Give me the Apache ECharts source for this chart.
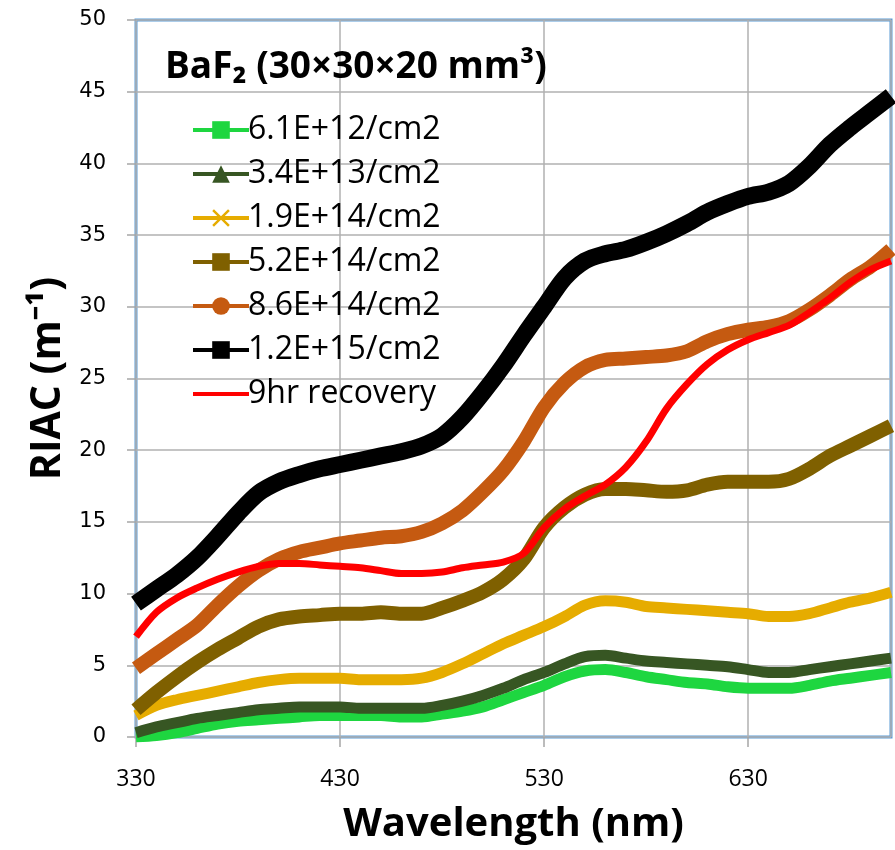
<!DOCTYPE html>
<html>
<head>
<meta charset="utf-8">
<script src="https://cdn.jsdelivr.net/npm/echarts@6/dist/echarts.min.js"></script>
<style>
  html, body { margin: 0; padding: 0; background: #fff; }
  #riac { width: 895px; height: 850px; }
</style>
</head>
<body>
<div id="riac"></div>
<script>
var wavelength = [330, 340, 350, 360, 370, 380, 390, 400, 410, 420, 430, 440, 450, 460, 470, 480, 490, 500, 510,
	520, 530, 540, 550, 560, 570, 580, 590, 600, 610, 620, 630, 640, 650, 660, 670, 680, 690, 700];

var dose61e12 = [0.0, 0.1, 0.3, 0.6, 0.9, 1.1, 1.2, 1.3, 1.4, 1.5, 1.5, 1.5, 1.5, 1.4, 1.4, 1.6, 1.8, 2.1, 2.6,
	3.1, 3.6, 4.2, 4.6, 4.7, 4.5, 4.2, 4.0, 3.8, 3.7, 3.5, 3.4, 3.4, 3.4, 3.6, 3.9, 4.1, 4.3, 4.5];
var dose34e13 = [0.3, 0.7, 1.0, 1.3, 1.5, 1.7, 1.9, 2.0, 2.1, 2.1, 2.1, 2.0, 2.0, 2.0, 2.0, 2.2, 2.5, 2.9, 3.4,
	4.0, 4.5, 5.1, 5.6, 5.7, 5.5, 5.3, 5.2, 5.1, 5.0, 4.9, 4.7, 4.5, 4.5, 4.7, 4.9, 5.1, 5.3, 5.5];
var dose19e14 = [1.5, 2.2, 2.6, 2.9, 3.2, 3.5, 3.8, 4.0, 4.1, 4.1, 4.1, 4.0, 4.0, 4.0, 4.1, 4.5, 5.1, 5.8, 6.5,
	7.1, 7.7, 8.4, 9.2, 9.5, 9.4, 9.1, 9.0, 8.9, 8.8, 8.7, 8.6, 8.4, 8.4, 8.6, 9.0, 9.4, 9.7, 10.1];
var dose52e14 = [1.9, 3.1, 4.2, 5.2, 6.1, 6.9, 7.7, 8.2, 8.4, 8.5, 8.6, 8.6, 8.7, 8.6, 8.6, 9.0, 9.5, 10.1, 11.0,
	12.4, 14.6, 16.0, 16.9, 17.3, 17.3, 17.2, 17.1, 17.2, 17.6, 17.8, 17.8, 17.8, 18.0, 18.7, 19.6, 20.3, 21.0, 21.7];
var dose86e14 = [4.8, 5.8, 6.8, 7.8, 9.2, 10.5, 11.6, 12.4, 12.9, 13.2, 13.5, 13.7, 13.9, 14.0, 14.3, 14.9, 15.8, 17.1, 18.6,
	20.6, 23.0, 24.7, 25.8, 26.3, 26.4, 26.5, 26.6, 26.9, 27.6, 28.1, 28.4, 28.6, 29.0, 29.8, 30.8, 31.9, 32.8, 34.0];
var dose12e15 = [9.3, 10.3, 11.3, 12.5, 14.0, 15.6, 17.0, 17.8, 18.3, 18.7, 19.0, 19.3, 19.6, 19.9, 20.3, 21.0, 22.3, 24.0, 25.9,
	28.0, 30.0, 32.0, 33.2, 33.7, 34.0, 34.5, 35.1, 35.8, 36.6, 37.2, 37.7, 38.0, 38.6, 39.8, 41.3, 42.5, 43.6, 44.7];
var recovery9hr = [7.0, 8.7, 9.7, 10.4, 11.0, 11.5, 11.9, 12.1, 12.1, 12.0, 11.9, 11.8, 11.6, 11.4, 11.4, 11.5, 11.8, 12.0, 12.2,
	12.8, 14.6, 15.9, 16.8, 17.6, 18.8, 20.6, 22.9, 24.6, 26.0, 27.0, 27.7, 28.2, 28.7, 29.6, 30.6, 31.7, 32.6, 33.2];

var seriesNames = ['6.1E+12/cm2', '3.4E+13/cm2', '1.9E+14/cm2', '5.2E+14/cm2', '8.6E+14/cm2', '1.2E+15/cm2', '9hr recovery'];

var crossSymbol = 'path://M0,1L1,0L5,4L9,0L10,1L6,5L10,9L9,10L5,6L1,10L0,9L4,5Z';
var plainLine = 'path://M0,0H27V2H0Z';

function pairs(values) {
	return wavelength.map(function (w, i) { return [w, values[i]]; });
}

function band(name, values, color, width, symbol) {
	return {
		name: name,
		type: 'line',
		data: pairs(values),
		smooth: 0.3,
		symbol: symbol,
		symbolSize: 14,
		showSymbol: false,
		itemStyle: { color: color },
		lineStyle: { color: color, width: width },
		emphasis: { disabled: true }
	};
}

var dom = document.getElementById('riac');
var myChart = echarts.init(dom);

var option = {
	animation: false,
	title: {
		text: 'BaF\u2082 (30\u00d730\u00d720 mm\u00b3)',
		left: 160,
		top: 44,
		textStyle: {
			fontFamily: 'Open Sans',
			fontWeight: 'bold',
			fontSize: 37,
			color: '#000'
		}
	},
	legend: {
		orient: 'vertical',
		left: 186,
		top: 108,
		itemWidth: 56,
		itemHeight: 22,
		itemGap: 10,
		lineStyle: { width: 4 },
		textStyle: {
			fontFamily: 'Open Sans',
			fontSize: 32,
			color: '#000',
			lineHeight: 34,
			padding: [0, 0, 0, -6]
		},
		data: seriesNames.slice(0, 6).concat([{ name: seriesNames[6], icon: plainLine }])
	},
	grid: {
		left: 136,
		right: 4,
		top: 20,
		bottom: 113,
		show: true,
		borderColor: '#5b9bd5',
		borderWidth: 3
	},
	xAxis: {
		type: 'value',
		min: 330,
		max: 700,
		interval: 100,
		name: 'Wavelength (nm)',
		nameLocation: 'middle',
		nameGap: 68,
		nameTextStyle: {
			fontFamily: 'Open Sans',
			fontWeight: 'bold',
			fontSize: 40,
			color: '#000'
		},
		axisLine: { show: false },
		axisTick: { show: true, length: 10, lineStyle: { color: '#a6a6a6', width: 1.5 } },
		axisLabel: {
			showMaxLabel: false,
			margin: 31,
			fontFamily: 'Open Sans',
			fontSize: 23,
			color: '#000'
		},
		splitLine: { show: true, lineStyle: { color: '#b0b0b0', width: 1.5 } }
	},
	yAxis: {
		type: 'value',
		min: 0,
		max: 50,
		interval: 5,
		name: 'RIAC (m\u207b\u00b9)',
		nameLocation: 'middle',
		nameGap: 58,
		nameTextStyle: {
			fontFamily: 'Open Sans',
			fontWeight: 'bold',
			fontSize: 41,
			color: '#000'
		},
		axisLine: { show: false },
		axisTick: { show: true, length: 9, lineStyle: { color: '#a6a6a6', width: 1.5 } },
		axisLabel: {
			margin: 30,
			fontFamily: 'DejaVu Sans',
			fontSize: 21,
			color: '#000'
		},
		splitLine: { show: true, lineStyle: { color: '#b0b0b0', width: 1.5 } }
	},
	series: [
		band(seriesNames[0], dose61e12, '#1ed640', 11, 'rect'),
		band(seriesNames[1], dose34e13, '#375623', 11, 'triangle'),
		band(seriesNames[2], dose19e14, '#e6ac00', 11, crossSymbol),
		band(seriesNames[3], dose52e14, '#7f6000', 14, 'rect'),
		band(seriesNames[4], dose86e14, '#c55a11', 14, 'circle'),
		band(seriesNames[5], dose12e15, '#000000', 17, 'rect'),
		band(seriesNames[6], recovery9hr, '#ff0000', 7, 'none')
	]
};

if (option && typeof option === 'object') {
	myChart.setOption(option, true);
}
</script>
</body>
</html>
